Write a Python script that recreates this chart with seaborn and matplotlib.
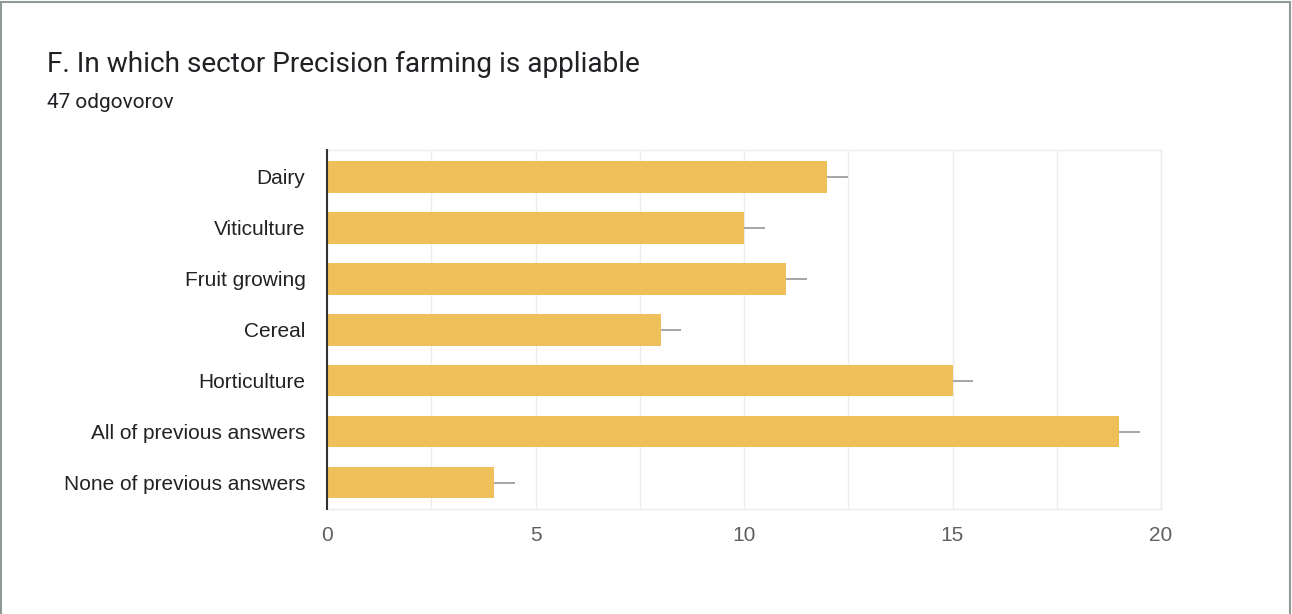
import matplotlib
matplotlib.use("Agg")
import matplotlib.pyplot as plt
import seaborn as sns
import pandas as pd
from matplotlib.patches import Rectangle
from matplotlib.ticker import MultipleLocator

categories = ["Dairy", "Viticulture", "Fruit growing", "Cereal", "Horticulture",
              "All of previous answers", "None of previous answers"]
counts = [12, 10, 11, 8, 15, 19, 4]
x_ticks = [0, 5, 10, 15, 20]
title = "F. In which sector Precision farming is appliable"
subtitle = "47 odgovorov"

df = pd.DataFrame({"category": categories, "count": counts})

sns.set_theme(style="white")
plt.rcParams["font.family"] = ["Liberation Sans", "DejaVu Sans"]

fig = plt.figure(figsize=(12.92, 6.14), dpi=100)
ax = fig.add_axes([327/1292, 1-509/614, (1161-327)/1292, (509-150)/614])

sns.barplot(data=df, y="category", x="count", orient="h", color="#efc05a",
            width=0.62, saturation=1, ax=ax, edgecolor="none", errorbar=None)

# leader lines to the right of each bar
for i, v in enumerate(counts):
    ax.plot([v, v + 0.5], [i, i], color="#9e9e9e", lw=1.3, solid_capstyle="butt", zorder=3)

ax.set_xlim(0, 20)
ax.set_ylim(6.52, -0.53)
ax.set_xticks(x_ticks)
ax.xaxis.set_minor_locator(MultipleLocator(2.5))
ax.grid(True, axis="x", which="both", color="#ececec", lw=1.0)
ax.set_axisbelow(True)
ax.set_xlabel("")
ax.set_ylabel("")
for side in ["top", "right", "bottom"]:
    ax.spines[side].set_color("#ececec")
    ax.spines[side].set_linewidth(1.0)
ax.spines["left"].set_color("#333333")
ax.spines["left"].set_linewidth(1.5)
ax.spines["left"].set_zorder(5)
ax.tick_params(axis="y", length=0, pad=15.5, labelsize=15, labelcolor="#222222")
ax.tick_params(axis="x", which="both", length=0, pad=12, labelsize=15, labelcolor="#5f5f5f")

fig.text(47/1292, 1-64/614, title, fontsize=20.2, family=["Roboto", "DejaVu Sans"],
         color="#202124", va="center", ha="left")
fig.text(47/1292, 1-102/614, subtitle, fontsize=15, family=["Roboto", "DejaVu Sans"],
         color="#202124", va="center", ha="left")

fig.patches.append(Rectangle((1/1292, -0.05), 1289/1292, 1.05 - 1.5/614, transform=fig.transFigure,
                             fill=False, edgecolor="#8f9a98", lw=1.5, figure=fig))

fig.savefig("out.png", dpi=100, facecolor="white")
